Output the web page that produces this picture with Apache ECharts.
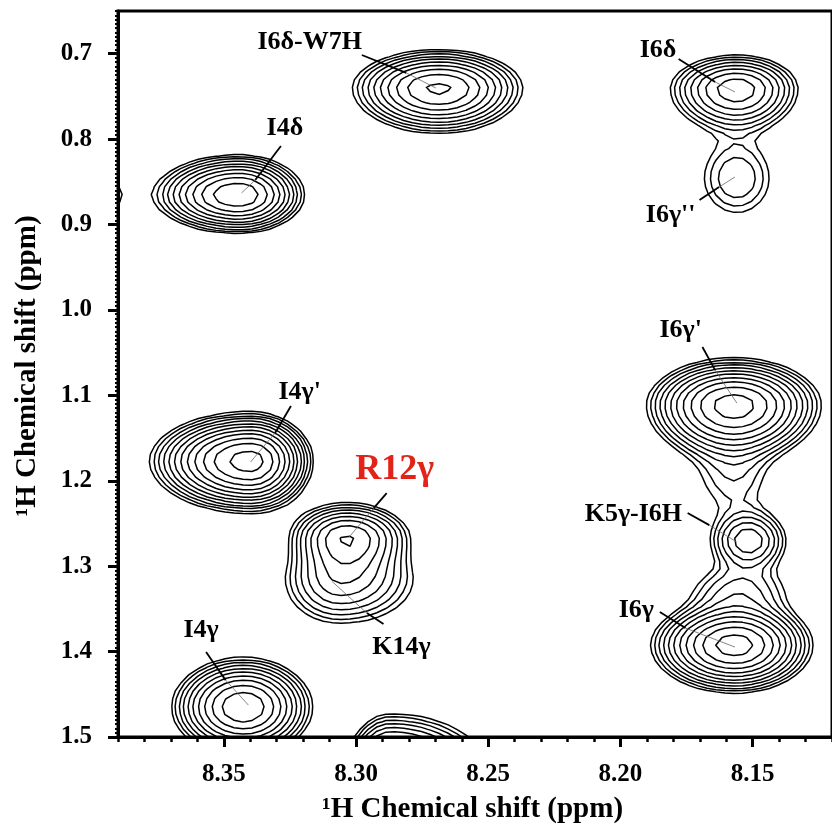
<!DOCTYPE html>
<html>
<head>
<meta charset="utf-8">
<script src="https://cdn.jsdelivr.net/npm/echarts@6.0.0/dist/echarts.min.js"></script>
<style>
  html, body { margin: 0; padding: 0; background: #fff; }
  #chart { width: 832px; height: 831px; }
</style>
</head>
<body>
<div id="chart"></div>
<script>
// axis ranges (ppm)
const xRange = [8.12, 8.39];
const yRange = [0.65, 1.5];
const xTicks = [8.35, 8.30, 8.25, 8.20, 8.15];
const yTicks = [0.7, 0.8, 0.9, 1.0, 1.1, 1.2, 1.3, 1.4, 1.5];

// peaks: centre, half widths on each side, height (x lowest contour)
const peakName = ['I4δ', 'edge', 'I6δ-W7H', 'I6δ', "I6γ''", "I6γ'", 'neck1', 'K5γ-I6H', 'neck2', 'I6γ', "I4γ'", 'R12γ', 'K14γ', 'I4γ', 'low'];
const peakX    = [8.3444, 8.3940, 8.2687, 8.1560, 8.1560, 8.1571, 8.1570, 8.1515, 8.1550, 8.1567, 8.3399, 8.3034, 8.3060, 8.3425, 8.2870];
const peakY    = [0.8655, 0.8655, 0.7402, 0.7413, 0.8456, 1.1114, 1.1950, 1.2706, 1.3300, 1.3924, 1.1769, 1.2671, 1.3200, 1.4650, 1.5400];
const peakSxL  = [0.0140, 0.0081, 0.0148, 0.0125, 0.0097, 0.0140, 0.0110, 0.0080, 0.0120, 0.0135, 0.0155, 0.0105, 0.0120, 0.0119, 0.0075];
const peakSxR  = [0.0109, 0.0081, 0.0144, 0.0115, 0.0097, 0.0140, 0.0100, 0.0080, 0.0120, 0.0125, 0.0096, 0.0115, 0.0160, 0.0114, 0.0165];
const peakSyU  = [0.0206, 0.0276, 0.0203, 0.0197, 0.0320, 0.0234, 0.0330, 0.0200, 0.0200, 0.0225, 0.0234, 0.0200, 0.0220, 0.0255, 0.0300];
const peakSyD  = [0.0196, 0.0276, 0.0240, 0.0250, 0.0320, 0.0280, 0.0330, 0.0200, 0.0200, 0.0238, 0.0248, 0.0250, 0.0280, 0.0255, 0.0300];
const peakH    = [13.4, 1.15, 11.2, 7.5, 2.2, 15.9, 1.6, 4.5, 2.4, 15.9, 20.4, 8.2, 4.0, 13.4, 12.0];

// contour levels
const levelBase = 1;
const levelFactor = 1.3;
const levelCount = 16;

// assignments: text position, pointer start, bend, end (ppm)
const labelText = ['I6δ-W7H', 'I4δ', 'I6δ', "I6γ''", "I6γ'", 'K5γ-I6H', 'I6γ', "I4γ'", 'R12γ', 'K14γ', 'I4γ'];
const labelX  = [8.3175, 8.3269, 8.1858, 8.1810, 8.1772, 8.1951, 8.1940, 8.3213, 8.2854, 8.2828, 8.3586];
const labelY  = [0.6863, 0.7870, 0.6957, 0.8889, 1.0235, 1.2390, 1.3514, 1.0961, 1.1875, 1.3947, 1.3748];
const startX  = [8.2978, 8.3284, 8.1780, 8.1701, 8.1690, 8.1746, 8.1851, 8.3246, 8.2884, 8.2896, 8.3567];
const startY  = [0.7015, 0.8081, 0.7062, 0.8713, 1.0434, 1.2378, 1.3537, 1.1125, 1.2144, 1.3678, 1.4006];
const bendX   = [8.2810, 8.3381, 8.1642, 8.1627, 8.1642, 8.1664, 8.1754, 8.3306, 8.2933, 8.2959, 8.3493];
const bendY   = [0.7225, 0.8479, 0.7331, 0.8561, 1.0704, 1.2519, 1.3725, 1.1441, 1.2320, 1.3549, 1.4334];
const endX    = [8.2698, 8.3433, 8.1567, 8.1567, 8.1560, 8.1560, 8.1567, 8.3399, 8.3026, 8.3090, 8.3407];
const endY    = [0.7402, 0.8631, 0.7448, 0.8444, 1.1090, 1.2718, 1.3947, 1.1781, 1.2659, 1.3180, 1.4626];
const highlightLabel = 'R12γ';

(function (w, d) {
  const FONT = '"Liberation Serif", "Times New Roman", serif';
  const GRID_NX = 80;
  const GRID_NY = 95;

  const chart = echarts.init(d.getElementById('chart'), null, { renderer: 'canvas' });
  const contourLines = buildContours();

  chart.setOption({
    animation: false,
    backgroundColor: '#fff',
    grid: {
      left: 118, right: -10, top: 11, bottom: 94,
      show: true, borderColor: '#000', borderWidth: 3, backgroundColor: 'transparent'
    },
    xAxis: [
      {
        type: 'value', inverse: true, min: xRange[0], max: xRange[1], interval: 0.05,
        position: 'bottom',
        name: '¹H Chemical shift (ppm)', nameLocation: 'middle', nameGap: 58,
        nameTextStyle: { fontFamily: FONT, fontWeight: 'bold', fontSize: 29, color: '#000', padding: [0, 5, 0, 0] },
        axisLine: { lineStyle: { color: '#000', width: 3 } },
        axisTick: { customValues: xTicks, length: 10, lineStyle: { color: '#000', width: 3 } },
        axisLabel: {
          customValues: xTicks, margin: 25,
          fontFamily: FONT, fontWeight: 'bold', fontSize: 25, color: '#000',
          formatter: v => v.toFixed(2)
        },
        splitLine: { show: false }
      },
      {
        type: 'value', inverse: true, min: xRange[0], max: xRange[1], interval: 0.01,
        position: 'bottom',
        axisLine: { show: false },
        axisTick: { length: 5, lineStyle: { color: '#000', width: 2.5 } },
        axisLabel: { show: false },
        splitLine: { show: false }
      }
    ],
    yAxis: [
      {
        type: 'value', inverse: true, min: yRange[0], max: yRange[1], interval: 0.05,
        position: 'left',
        name: '¹H Chemical shift (ppm)', nameLocation: 'middle', nameGap: 76,
        nameTextStyle: { fontFamily: FONT, fontWeight: 'bold', fontSize: 29, color: '#000', padding: [0, 0, 0, 16] },
        axisLine: { lineStyle: { color: '#000', width: 3 } },
        axisTick: { customValues: yTicks, length: 10, lineStyle: { color: '#000', width: 3 } },
        axisLabel: {
          customValues: yTicks, margin: 26,
          fontFamily: FONT, fontWeight: 'bold', fontSize: 25, color: '#000',
          formatter: v => v.toFixed(1)
        },
        splitLine: { show: false }
      },
      {
        type: 'value', inverse: true, min: yRange[0], max: yRange[1], interval: 0.005,
        position: 'left',
        axisLine: { show: false },
        axisTick: { length: 3, lineStyle: { color: '#000', width: 2 } },
        axisLabel: { show: false },
        splitLine: { show: false }
      }
    ],
    series: [
      {
        type: 'custom',
        name: 'contours',
        silent: true,
        clip: true,
        xAxisIndex: 0, yAxisIndex: 0,
        data: contourLines.map((pl, i) => [pl[0][0], pl[0][1], i]),
        renderItem: renderContour
      },
      {
        type: 'custom',
        name: 'labels',
        silent: true,
        xAxisIndex: 0, yAxisIndex: 0,
        data: labelText.map((t, i) => [labelX[i], labelY[i]]),
        renderItem: renderLabel
      }
    ]
  });

  /* one contour polyline */
  function renderContour(params, api) {
    const pl = contourLines[params.dataIndex];
    return {
      type: 'polyline',
      shape: { points: pl.map(p => api.coord(p)) },
      style: { stroke: '#000', lineWidth: 1.5, fill: null }
    };
  }

  /* one assignment: text + pointer (thick outside, thin inside the peak) */
  function renderLabel(params, api) {
    const i = params.dataIndex;
    const t = api.coord([labelX[i], labelY[i]]);
    const s = api.coord([startX[i], startY[i]]);
    const b = api.coord([bendX[i], bendY[i]]);
    const e = api.coord([endX[i], endY[i]]);
    const red = labelText[i] === highlightLabel;
    return {
      type: 'group',
      children: [
        { type: 'line', shape: { x1: s[0], y1: s[1], x2: b[0], y2: b[1] }, style: { stroke: '#000', lineWidth: 1.8 } },
        { type: 'line', shape: { x1: b[0], y1: b[1], x2: e[0], y2: e[1] }, style: { stroke: '#666', lineWidth: 0.8 } },
        {
          type: 'text', x: t[0], y: t[1],
          style: {
            text: labelText[i],
            fill: red ? '#e2231a' : '#000',
            font: 'bold ' + (red ? 36 : 26) + 'px ' + FONT,
            align: 'center', verticalAlign: 'middle'
          }
        }
      ]
    };
  }

  /* intensity at (x, y) from all peaks */
  function intensity(x, y) {
    let s = 0;
    for (let k = 0; k < peakX.length; k++) {
      const dx = x - peakX[k];
      const dy = y - peakY[k];
      const sx = dx > 0 ? peakSxL[k] : peakSxR[k];
      const sy = dy < 0 ? peakSyU[k] : peakSyD[k];
      s += peakH[k] * Math.exp(-0.5 * (dx * dx / (sx * sx) + dy * dy / (sy * sy)));
    }
    return s;
  }

  /* marching squares over the plot area, segments joined into polylines */
  function buildContours() {
    const gx = [], gy = [], v = [];
    for (let i = 0; i <= GRID_NX; i++) gx.push(xRange[0] + (xRange[1] - xRange[0]) * i / GRID_NX);
    for (let j = 0; j <= GRID_NY; j++) gy.push(yRange[0] + (yRange[1] - yRange[0]) * j / GRID_NY);
    for (let i = 0; i <= GRID_NX; i++) {
      v.push([]);
      for (let j = 0; j <= GRID_NY; j++) v[i].push(intensity(gx[i], gy[j]));
    }
    const lines = [];
    for (let n = 0; n < levelCount; n++) {
      const L = levelBase * Math.pow(levelFactor, n);
      const pts = {}, adj = {};
      const lerpX = (i, j) => {
        const t = (L - v[i][j]) / (v[i + 1][j] - v[i][j]);
        return [gx[i] + t * (gx[i + 1] - gx[i]), gy[j]];
      };
      const lerpY = (i, j) => {
        const t = (L - v[i][j]) / (v[i][j + 1] - v[i][j]);
        return [gx[i], gy[j] + t * (gy[j + 1] - gy[j])];
      };
      const edgePoint = (e, i, j) => {
        let key, p;
        if (e === 0) { key = 'h' + i + '_' + j; p = lerpX(i, j); }
        else if (e === 1) { key = 'v' + (i + 1) + '_' + j; p = lerpY(i + 1, j); }
        else if (e === 2) { key = 'h' + i + '_' + (j + 1); p = lerpX(i, j + 1); }
        else { key = 'v' + i + '_' + j; p = lerpY(i, j); }
        pts[key] = p;
        return key;
      };
      const addSeg = (i, j, e1, e2) => {
        const k1 = edgePoint(e1, i, j), k2 = edgePoint(e2, i, j);
        (adj[k1] = adj[k1] || []).push(k2);
        (adj[k2] = adj[k2] || []).push(k1);
      };
      for (let i = 0; i < GRID_NX; i++) {
        for (let j = 0; j < GRID_NY; j++) {
          const a = v[i][j], b = v[i + 1][j], c = v[i + 1][j + 1], dd = v[i][j + 1];
          const code = (a > L ? 1 : 0) | (b > L ? 2 : 0) | (c > L ? 4 : 0) | (dd > L ? 8 : 0);
          const mid = (a + b + c + dd) / 4 > L;
          switch (code) {
            case 1: case 14: addSeg(i, j, 3, 0); break;
            case 2: case 13: addSeg(i, j, 0, 1); break;
            case 3: case 12: addSeg(i, j, 3, 1); break;
            case 4: case 11: addSeg(i, j, 1, 2); break;
            case 6: case 9: addSeg(i, j, 0, 2); break;
            case 7: case 8: addSeg(i, j, 2, 3); break;
            case 5:
              if (mid) { addSeg(i, j, 0, 1); addSeg(i, j, 2, 3); }
              else { addSeg(i, j, 3, 0); addSeg(i, j, 1, 2); }
              break;
            case 10:
              if (mid) { addSeg(i, j, 3, 0); addSeg(i, j, 1, 2); }
              else { addSeg(i, j, 0, 1); addSeg(i, j, 2, 3); }
              break;
          }
        }
      }
      const seen = new Set();
      const walk = (start) => {
        const line = [pts[start]];
        seen.add(start);
        let prev = null, cur = start;
        while (true) {
          const next = adj[cur].find(k => k !== prev && !seen.has(k));
          if (!next) {
            if (adj[cur].indexOf(start) >= 0 && line.length > 2) line.push(pts[start]);
            break;
          }
          line.push(pts[next]);
          seen.add(next);
          prev = cur;
          cur = next;
        }
        if (line.length > 1) lines.push(line);
      };
      Object.keys(adj).forEach(k => { if (adj[k].length === 1 && !seen.has(k)) walk(k); });
      Object.keys(adj).forEach(k => { if (!seen.has(k)) walk(k); });
    }
    return lines;
  }
})(window, document);
</script>
</body>
</html>
